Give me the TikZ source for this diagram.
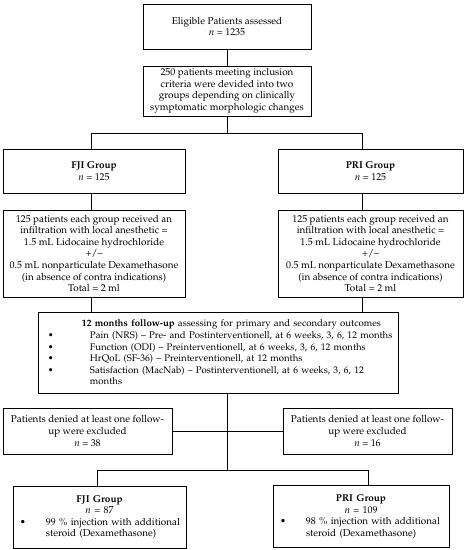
\documentclass[tikz,border=0pt]{standalone}
\usepackage[T1]{fontenc}
\usepackage{mathpazo}
\usepackage{tikz}
\usetikzlibrary{positioning}
\tikzset{
    flowBox/.style={
		draw, line width=0.8pt, inner sep=2pt, align=center,
		font=\fontsize{9.9}{11.6}\selectfont
	}
}
\tikzset{
    flowLine/.style={line width=0.6pt}
}
\newcommand{\nval}[1]{\textit{n} = #1}
\newcommand{\outItem}[1]{\mbox{\hspace*{8pt}\makebox[42pt][l]{\textbullet}#1}}

\begin{document}
\begin{tikzpicture}[x=1pt,y=-1pt]
        \useasboundingbox (0,0) rectangle (465,550);
        \node[flowBox, minimum width=168pt, minimum height=45pt] (elig) at(227,26.5) {Eligible Patients assessed\\\nval{1235}};
        \node[flowBox, minimum width=168pt, minimum height=50pt] (incl) at(227,91) {250 patients meeting inclusion\\criteria were devided into two\\groups depending on clinically\\symptomatic morphologic changes};
        \node[flowBox, minimum width=182pt, minimum height=44pt] (fji) at(94,171) {\textbf{FJI Group}\\\nval{125}};
        \node[flowBox, minimum width=185pt, minimum height=44pt] (pri) at(370.5,171) {\textbf{PRI Group}\\\nval{125}};
        \node[flowBox, minimum width=182pt, minimum height=87pt] (fjiInf) at(94,253.5) {125 patients each group received an\\infiltration with local anesthetic =\\1.5 mL Lidocaine hydrochloride\\+/--\\0.5 mL nonparticulate Dexamethasone\\(in absence of contra indications)\\Total = 2 ml};
        \node[flowBox, minimum width=185pt, minimum height=87pt] (priInf) at(370.5,253.5) {125 patients each group received an\\infiltration with local anesthetic =\\1.5 mL Lidocaine hydrochloride\\+/--\\0.5 mL nonparticulate Dexamethasone\\(in absence of contra indications)\\Total = 2 ml};
        \node[flowBox, align=left, text width=356pt, minimum height=81pt, font=\fontsize{9.6}{11.6}\selectfont] (follow) at(218,352.5) {\mbox{\hspace*{42pt}\textbf{12 months follow-up} assessing for primary and secondary outcomes}\\
			\outItem{Pain (NRS) -- Pre- and Postinterventionell, at 6 weeks, 3, 6, 12 months}\\
			\outItem{Function (ODI) -- Preinterventionell, at 6 weeks, 3, 6, 12 months}\\
			\outItem{HrQoL (SF-36) -- Preinterventionell, at 12 months}\\
			\outItem{Satisfaction (MacNab) -- Postinterventionell, at 6 weeks, 3, 6, 12}\\
			\hspace*{50pt}months};
        \node[flowBox, minimum width=169pt, minimum height=46pt] (exclL) at(87.5,431) {Patients denied at least one follow-\\up were excluded\\\nval{38}};
        \node[flowBox, minimum width=169pt, minimum height=46pt] (exclR) at(367.5,431) {Patients denied at least one follow-\\up were excluded\\\nval{16}};
        \node[flowBox, text width=169pt, minimum height=62pt] (fjiEnd) at(99.5,517) {\textbf{FJI Group}\\\nval{87}\\
			\makebox[169pt][l]{\hspace*{5pt}\makebox[26pt][l]{\textbullet}99 \% injection with additional}\\
			\makebox[169pt][l]{\hspace*{31pt}steroid (Dexamethasone)}};
        \node[flowBox, text width=172pt, minimum height=62pt] (priEnd) at(361,516.5) {\textbf{PRI Group}\\\nval{109}\\
			\makebox[172pt][l]{\hspace*{5pt}\makebox[26pt][l]{\textbullet}98 \% injection with additional}\\
			\makebox[172pt][l]{\hspace*{31pt}steroid (Dexamethasone)}};
        % splits
        \coordinate (splitTop) at(227,133);
        \coordinate (busL) at(91,133);
        \coordinate (busR) at(362,133);
        \coordinate (splitEnd) at(227,470);
        \coordinate (endL) at(97,470);
        \coordinate (endR) at(368,470);
        \draw[flowLine] (elig) -- (incl);
        \draw[flowLine] (incl.south) -- (splitTop);
        \draw[flowLine] (busL) -- (busR);
        \draw[flowLine] (busL) -- (busL |- fji.north);
        \draw[flowLine] (busR) -- (busR |- pri.north);
        \draw[flowLine] (busL |- fji.south) -- (busL |- fjiInf.north);
        \draw[flowLine] (busR |- pri.south) -- (busR |- priInf.north);
        \draw[flowLine] (busL |- fjiInf.south) -- (busL |- follow.north);
        \draw[flowLine] (busR |- priInf.south) -- (busR |- follow.north);
        \draw[flowLine] (splitEnd |- follow.south) -- (splitEnd);
        \draw[flowLine] (exclL) -- (exclR);
        \draw[flowLine] (endL) -- (endR);
        \draw[flowLine] (endL) -- (endL |- fjiEnd.north);
        \draw[flowLine] (endR) -- (endR |- priEnd.north);
\end{tikzpicture}
\end{document}
